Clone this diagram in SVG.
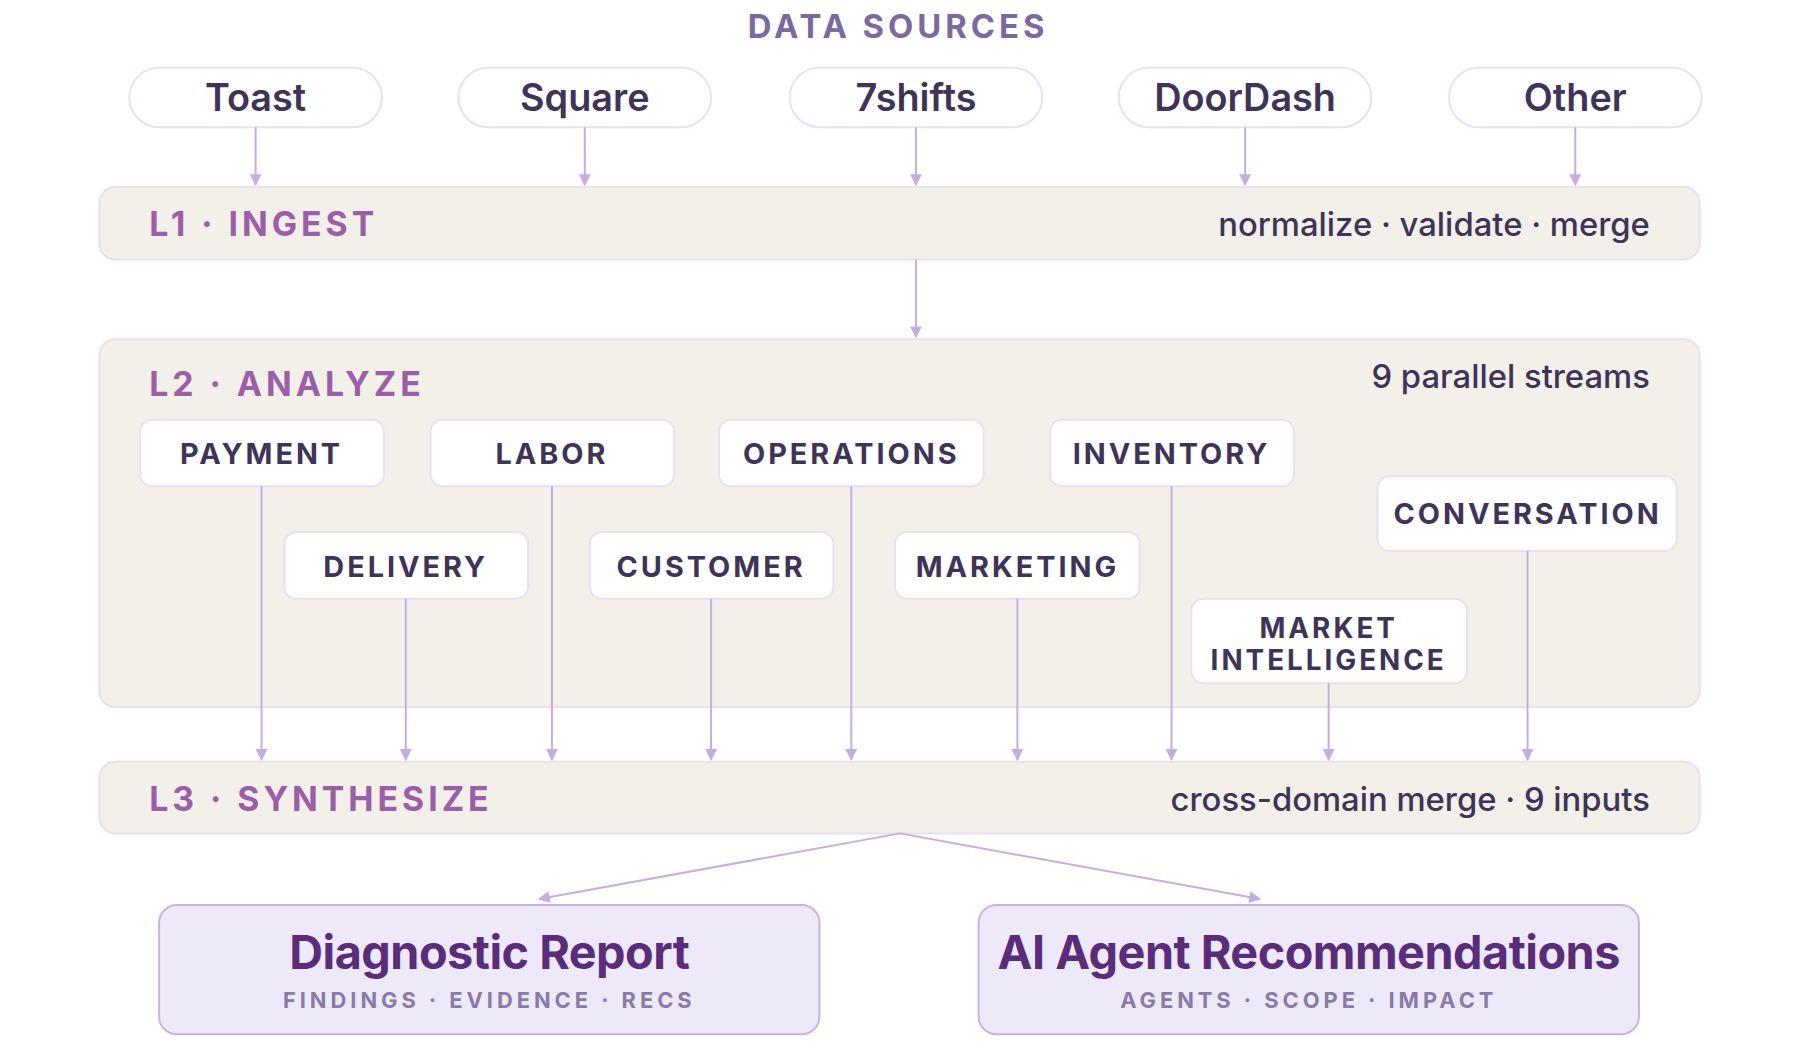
<svg xmlns="http://www.w3.org/2000/svg" width="1800" height="1060" viewBox="0 0 1800 1060">
<defs>
<marker id="ah" viewBox="0 0 10 10" refX="9" refY="5" markerWidth="12" markerHeight="12" markerUnits="userSpaceOnUse" orient="auto"><path d="M0,0 L10,5 L0,10 z" fill="#c4aee0"/></marker>
<style>
text{font-family:Inter,"Noto Sans","Liberation Sans",sans-serif}
.pill{fill:#fff;stroke:#e8e0f2;stroke-width:2}
.pt{font-size:38px;font-weight:600;fill:#3d3457;text-anchor:middle}
.band{fill:#f3f0ea;stroke:#e6e0ef;stroke-width:2}
.bl{font-size:34px;font-weight:700;fill:#9b5fa8;letter-spacing:4px}
.br{font-size:33px;font-weight:500;fill:#3d3457;text-anchor:end}
.box{fill:#fff;stroke:#e8e0f2;stroke-width:2}
.bt{font-size:29px;font-weight:700;fill:#3d3457;text-anchor:middle;letter-spacing:3px}
.ob{fill:#eee9f8;stroke:#c8b3e0;stroke-width:2}
.ot{font-size:47px;font-weight:700;fill:#5a2d7a;text-anchor:middle;letter-spacing:-0.5px}
.os{font-size:22px;font-weight:700;fill:#8a7aa8;text-anchor:middle;letter-spacing:4px}
.c{stroke:#c4aee0;stroke-width:2;fill:none;marker-end:url(#ah)}
</style>
</defs>
<rect width="1800" height="1060" fill="#fff"/>
<g transform="scale(0.9945)">
<text x="903" y="38" text-anchor="middle" style="font-size:33px;font-weight:700;fill:#7a6a9e;letter-spacing:4px">DATA SOURCES</text>
<g id="toast"><rect class="pill" x="130" y="68" width="254" height="60" rx="30"/><text class="pt" x="257" y="112">Toast</text></g>
<g id="square"><rect class="pill" x="461" y="68" width="254" height="60" rx="30"/><text class="pt" x="588" y="112">Square</text></g>
<g id="7shifts"><rect class="pill" x="794" y="68" width="254" height="60" rx="30"/><text class="pt" x="921" y="112">7shifts</text></g>
<g id="doordash"><rect class="pill" x="1125" y="68" width="254" height="60" rx="30"/><text class="pt" x="1252" y="112">DoorDash</text></g>
<g id="other"><rect class="pill" x="1457" y="68" width="254" height="60" rx="30"/><text class="pt" x="1584" y="112">Other</text></g>
<g id="l1"><rect class="band" x="100" y="188" width="1609" height="73" rx="16"/><text class="bl" x="150" y="237">L1 · INGEST</text><text class="br" x="1659" y="237">normalize · validate · merge</text></g>
<g id="l2"><rect class="band" x="100" y="341" width="1609" height="370" rx="16"/><text class="bl" x="150" y="398">L2 · ANALYZE</text><text class="br" x="1659" y="390">9 parallel streams</text></g>
<g id="payment"><rect class="box" x="141" y="422" width="245" height="67" rx="12"/><text class="bt" x="263" y="467">PAYMENT</text></g>
<g id="labor"><rect class="box" x="433" y="422" width="245" height="67" rx="12"/><text class="bt" x="555" y="467">LABOR</text></g>
<g id="operations"><rect class="box" x="723" y="422" width="266" height="67" rx="12"/><text class="bt" x="856" y="467">OPERATIONS</text></g>
<g id="inventory"><rect class="box" x="1056" y="422" width="245" height="67" rx="12"/><text class="bt" x="1178" y="467">INVENTORY</text></g>
<g id="conversation"><rect class="box" x="1385" y="479" width="301" height="75" rx="12"/><text class="bt" x="1536" y="527">CONVERSATION</text></g>
<g id="delivery"><rect class="box" x="286" y="535" width="245" height="67" rx="12"/><text class="bt" x="408" y="580">DELIVERY</text></g>
<g id="customer"><rect class="box" x="593" y="535" width="245" height="67" rx="12"/><text class="bt" x="715" y="580">CUSTOMER</text></g>
<g id="marketing"><rect class="box" x="900" y="535" width="246" height="67" rx="12"/><text class="bt" x="1023" y="580">MARKETING</text></g>
<g id="market-intelligence"><rect class="box" x="1198" y="602" width="277" height="85" rx="12"/><text class="bt" x="1336" y="642" style="font-size:28px">MARKET</text><text class="bt" x="1336" y="674" style="font-size:28px">INTELLIGENCE</text></g>
<g id="l3"><rect class="band" x="100" y="766" width="1609" height="72" rx="16"/><text class="bl" x="150" y="815">L3 · SYNTHESIZE</text><text class="br" x="1659" y="815">cross-domain merge · 9 inputs</text></g>
<g id="report"><rect class="ob" x="160" y="910" width="664" height="130" rx="18"/><text class="ot" x="492" y="974">Diagnostic Report</text><text class="os" x="492" y="1014">FINDINGS · EVIDENCE · RECS</text></g>
<g id="agents"><rect class="ob" x="984" y="910" width="664" height="130" rx="18"/><text class="ot" x="1316" y="974">AI Agent Recommendations</text><text class="os" x="1316" y="1014">AGENTS · SCOPE · IMPACT</text></g>
<g id="connectors">
<path class="c" d="M257,128 V186"/><path class="c" d="M588,128 V186"/><path class="c" d="M921,128 V186"/><path class="c" d="M1252,128 V186"/><path class="c" d="M1584,128 V186"/>
<path class="c" d="M921,261 V339"/>
<path class="c" d="M263,489 V764"/><path class="c" d="M408,602 V764"/><path class="c" d="M555,489 V764"/><path class="c" d="M715,602 V764"/><path class="c" d="M856,489 V764"/><path class="c" d="M1023,602 V764"/><path class="c" d="M1178,489 V764"/><path class="c" d="M1336,687 V764"/><path class="c" d="M1536,554 V764"/>
<path class="c" d="M905,838 L542,904"/><path class="c" d="M905,838 L1267,904"/>
</g>
</g>
</svg>
